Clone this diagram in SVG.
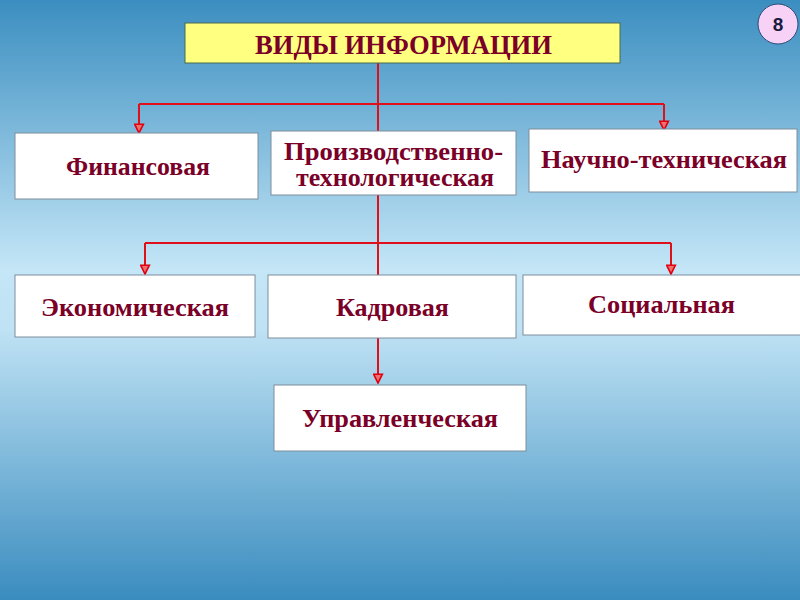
<svg xmlns="http://www.w3.org/2000/svg" width="800" height="600" viewBox="0 0 800 600">
<defs>
<linearGradient id="bg" x1="0" y1="0" x2="0" y2="1">
<stop offset="0" stop-color="#3b8ec0"/>
<stop offset="0.45" stop-color="#c4e6f7"/>
<stop offset="0.55" stop-color="#bfe2f4"/>
<stop offset="1" stop-color="#3a8cbf"/>
</linearGradient>
<marker id="arr" viewBox="0 0 10 10" refX="9" refY="5" markerWidth="11" markerHeight="11" markerUnits="userSpaceOnUse" orient="auto">
<path d="M1,1 L9,5 L1,9 Z" fill="#f07070" stroke="#e00010" stroke-width="1.5"/>
</marker>
<style>
.box{fill:#ffffff;stroke:#7f8e9c;stroke-width:1}
.t{font-family:"Liberation Serif","Times New Roman",serif;font-weight:bold;fill:#7a0028;text-anchor:middle}
.n{font-size:25px}
.ln{fill:none;stroke:#e0101a;stroke-width:2}
</style>
</defs>
<rect width="800" height="600" fill="url(#bg)"/>
<g id="connectors">
<path class="ln" d="M378,63 V104"/>
<path class="ln" d="M139,104 H664" />
<path class="ln" d="M139,104 V133" marker-end="url(#arr)"/>
<path class="ln" d="M664,104 V130" marker-end="url(#arr)"/>
<path class="ln" d="M378,104 V131"/>
<path class="ln" d="M378,195 V275"/>
<path class="ln" d="M145,243 H671"/>
<path class="ln" d="M145,243 V274" marker-end="url(#arr)"/>
<path class="ln" d="M671,243 V274" marker-end="url(#arr)"/>
<path class="ln" d="M378,338 V383" marker-end="url(#arr)"/>
</g>
<g id="title">
<rect x="185" y="23" width="435" height="40" fill="#ffff80" stroke="#4a6a50" stroke-width="1"/>
<text class="t" x="403.5" y="54" font-size="28" textLength="297" lengthAdjust="spacingAndGlyphs">ВИДЫ ИНФОРМАЦИИ</text>
</g>
<g id="fin">
<rect class="box" x="15" y="133" width="243" height="66"/>
<text class="t n" x="138" y="175" textLength="144" lengthAdjust="spacingAndGlyphs">Финансовая</text>
</g>
<g id="prod">
<rect class="box" x="271" y="131" width="245" height="64"/>
<text class="t n" x="393.5" y="160" textLength="219" lengthAdjust="spacingAndGlyphs">Производственно-</text>
<text class="t n" x="395" y="186" textLength="198" lengthAdjust="spacingAndGlyphs">технологическая</text>
</g>
<g id="nauch">
<rect class="box" x="529" y="129" width="268" height="63"/>
<text class="t n" x="664" y="168" textLength="246" lengthAdjust="spacingAndGlyphs">Научно-техническая</text>
</g>
<g id="econ">
<rect class="box" x="15" y="275" width="240" height="62"/>
<text class="t n" x="135" y="316" textLength="188" lengthAdjust="spacingAndGlyphs">Экономическая</text>
</g>
<g id="kadr">
<rect class="box" x="268" y="275" width="248" height="63"/>
<text class="t n" x="392.5" y="316" textLength="113" lengthAdjust="spacingAndGlyphs">Кадровая</text>
</g>
<g id="soc">
<rect class="box" x="523" y="275" width="280" height="60"/>
<text class="t n" x="661.5" y="313" textLength="147" lengthAdjust="spacingAndGlyphs">Социальная</text>
</g>
<g id="upr">
<rect class="box" x="274" y="385" width="252" height="66"/>
<text class="t n" x="400" y="427" textLength="196" lengthAdjust="spacingAndGlyphs">Управленческая</text>
</g>
<g id="badge">
<circle cx="778" cy="24" r="20" fill="#f8d2f6" stroke="#2a4a7a" stroke-width="1"/>
<text x="778" y="31" font-family="Liberation Sans, Arial, sans-serif" font-weight="bold" font-size="19" fill="#1a1a40" text-anchor="middle">8</text>
</g>
</svg>
